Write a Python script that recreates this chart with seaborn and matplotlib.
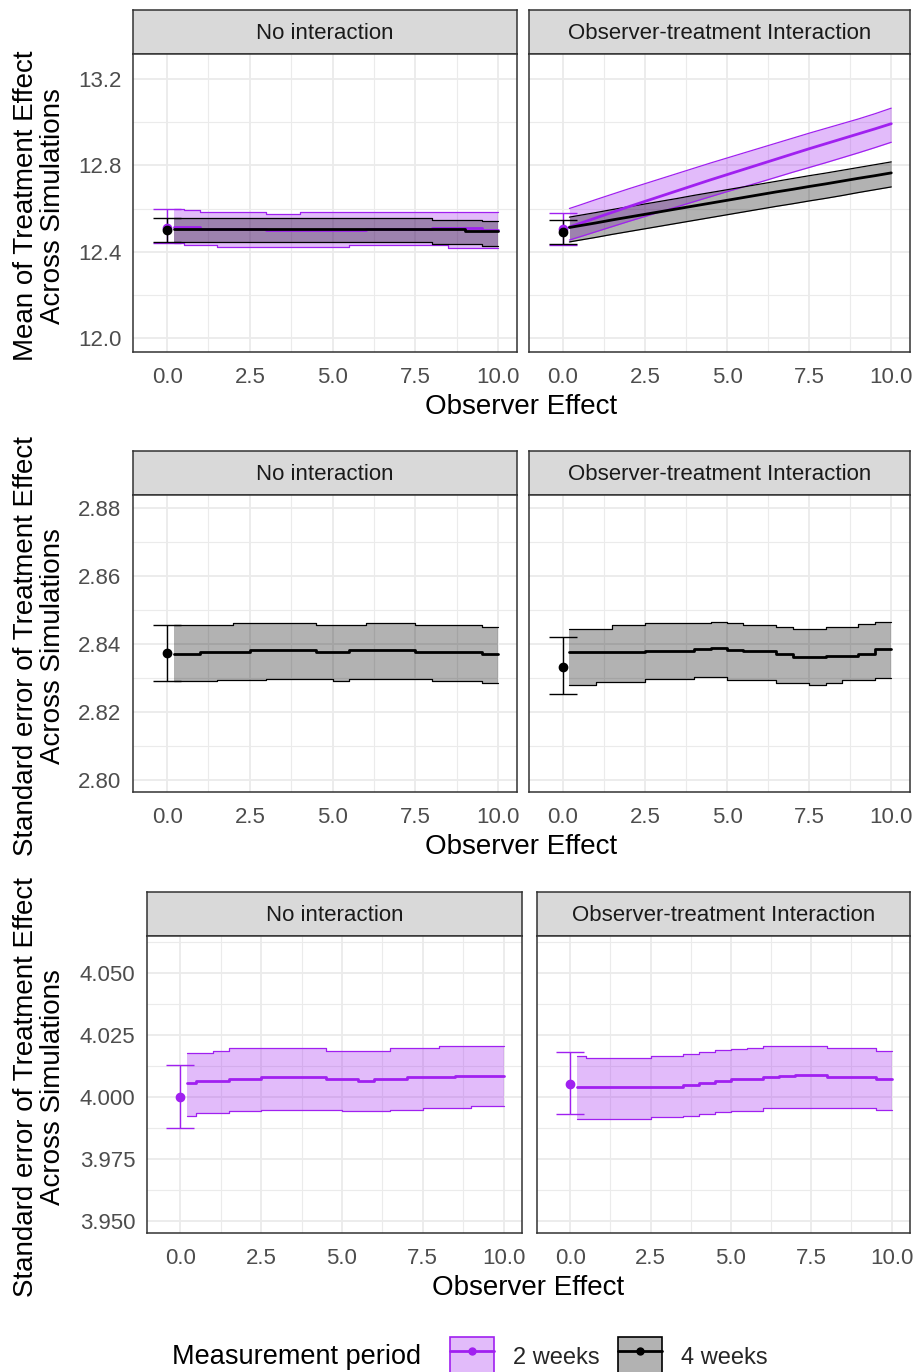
import numpy as np
import pandas as pd
import matplotlib
matplotlib.use("Agg")
import matplotlib.pyplot as plt
import seaborn as sns
from matplotlib.patches import Patch
from matplotlib.lines import Line2D
from matplotlib.legend_handler import HandlerTuple
from matplotlib.ticker import FixedLocator, FormatStrFormatter

# ---------------------------------------------------------------- data
PERIODS = ["2 weeks", "4 weeks"]
FACETS = ["No interaction", "Observer-treatment Interaction"]
OBS_X = [0.2, 0.5, 1.0, 1.5, 2.0, 2.5, 3.0, 3.5, 4.0, 4.5, 5.0,
         5.5, 6.0, 6.5, 7.0, 7.5, 8.0, 8.5, 9.0, 9.5, 10.0]
X_TICKS = [0.0, 2.5, 5.0, 7.5, 10.0]

# Row 1: mean of treatment effect
r1_noint_2w_mean = [12.516, 12.516, 12.507, 12.507, 12.507, 12.507, 12.502, 12.502, 12.502, 12.502, 12.502,
                    12.502, 12.506, 12.506, 12.506, 12.506, 12.510, 12.510, 12.510, 12.500, 12.500]
r1_noint_2w_hi = [12.596, 12.593, 12.582, 12.582, 12.582, 12.582, 12.573, 12.573, 12.582, 12.582, 12.582,
                  12.582, 12.582, 12.582, 12.582, 12.582, 12.582, 12.582, 12.582, 12.582, 12.582]
r1_noint_2w_lo = [12.438, 12.431, 12.431, 12.420, 12.420, 12.420, 12.420, 12.420, 12.420, 12.420, 12.420,
                  12.431, 12.431, 12.431, 12.431, 12.431, 12.431, 12.415, 12.415, 12.415, 12.415]
r1_noint_4w_mean = [12.506, 12.506, 12.506, 12.506, 12.506, 12.506, 12.506, 12.506, 12.506, 12.506, 12.506,
                    12.506, 12.506, 12.506, 12.506, 12.506, 12.503, 12.503, 12.494, 12.494, 12.494]
r1_noint_4w_hi = [12.557, 12.557, 12.557, 12.557, 12.557, 12.557, 12.557, 12.557, 12.557, 12.557, 12.557,
                  12.557, 12.557, 12.557, 12.557, 12.557, 12.546, 12.546, 12.546, 12.540, 12.540]
r1_noint_4w_lo = [12.443, 12.443, 12.443, 12.443, 12.443, 12.443, 12.443, 12.443, 12.443, 12.443, 12.443,
                  12.443, 12.443, 12.443, 12.443, 12.443, 12.434, 12.434, 12.434, 12.425, 12.425]
r1_int_2w_mean = [12.514, 12.530, 12.556, 12.582, 12.608, 12.633, 12.658, 12.683, 12.708, 12.733, 12.757,
                  12.781, 12.805, 12.829, 12.853, 12.877, 12.900, 12.923, 12.946, 12.969, 12.993]
r1_int_2w_hi = [12.600, 12.615, 12.641, 12.666, 12.691, 12.715, 12.739, 12.763, 12.787, 12.811, 12.834,
                12.857, 12.880, 12.903, 12.926, 12.949, 12.971, 12.993, 13.015, 13.039, 13.065]
r1_int_2w_lo = [12.454, 12.468, 12.492, 12.516, 12.540, 12.563, 12.586, 12.609, 12.632, 12.655, 12.678,
                12.700, 12.722, 12.745, 12.768, 12.790, 12.812, 12.835, 12.858, 12.882, 12.907]
r1_int_4w_mean = [12.512, 12.520, 12.533, 12.547, 12.560, 12.573, 12.586, 12.599, 12.612, 12.625, 12.638,
                  12.651, 12.664, 12.677, 12.689, 12.702, 12.714, 12.727, 12.740, 12.752, 12.765]
r1_int_4w_hi = [12.560, 12.568, 12.581, 12.595, 12.608, 12.621, 12.634, 12.647, 12.661, 12.674, 12.687,
                12.700, 12.713, 12.726, 12.739, 12.752, 12.764, 12.777, 12.790, 12.803, 12.816]
r1_int_4w_lo = [12.445, 12.453, 12.466, 12.480, 12.493, 12.506, 12.519, 12.532, 12.545, 12.558, 12.571,
                12.584, 12.597, 12.610, 12.622, 12.635, 12.647, 12.660, 12.674, 12.687, 12.700]
# baseline (observer effect = 0): mean, lower, upper
r1_base_noint_2w = [12.510, 12.438, 12.597]
r1_base_noint_4w = [12.500, 12.443, 12.557]
r1_base_int_2w = [12.505, 12.430, 12.580]
r1_base_int_4w = [12.492, 12.435, 12.546]

# Row 2: standard error, 4 weeks
r2_noint_4w_mean = [2.8370, 2.8370, 2.8376, 2.8376, 2.8376, 2.8382, 2.8382, 2.8382, 2.8382, 2.8376, 2.8376,
                    2.8382, 2.8382, 2.8382, 2.8382, 2.8376, 2.8376, 2.8376, 2.8376, 2.8370, 2.8370]
r2_noint_4w_hi = [2.8456, 2.8456, 2.8456, 2.8456, 2.8461, 2.8461, 2.8461, 2.8461, 2.8461, 2.8456, 2.8456,
                  2.8456, 2.8461, 2.8461, 2.8461, 2.8456, 2.8456, 2.8456, 2.8456, 2.8451, 2.8451]
r2_noint_4w_lo = [2.8291, 2.8291, 2.8291, 2.8294, 2.8294, 2.8294, 2.8297, 2.8297, 2.8297, 2.8297, 2.8292,
                  2.8297, 2.8297, 2.8297, 2.8297, 2.8297, 2.8292, 2.8292, 2.8292, 2.8286, 2.8286]
r2_int_4w_mean = [2.8376, 2.8376, 2.8376, 2.8376, 2.8376, 2.8380, 2.8380, 2.8380, 2.8384, 2.8387, 2.8382,
                  2.8378, 2.8378, 2.8371, 2.8363, 2.8363, 2.8366, 2.8366, 2.8372, 2.8384, 2.8384]
r2_int_4w_hi = [2.8443, 2.8443, 2.8443, 2.8456, 2.8456, 2.8461, 2.8461, 2.8461, 2.8461, 2.8466, 2.8461,
                2.8456, 2.8456, 2.8451, 2.8444, 2.8444, 2.8451, 2.8451, 2.8459, 2.8466, 2.8466]
r2_int_4w_lo = [2.8279, 2.8279, 2.8289, 2.8289, 2.8289, 2.8297, 2.8297, 2.8297, 2.8302, 2.8302, 2.8294,
                2.8294, 2.8294, 2.8286, 2.8286, 2.8279, 2.8286, 2.8294, 2.8294, 2.8300, 2.8300]
r2_base_noint_4w = [2.8374, 2.8292, 2.8456]
r2_base_int_4w = [2.8333, 2.8252, 2.8422]

# Row 3: standard error, 2 weeks
r3_noint_2w_mean = [4.0056, 4.0066, 4.0066, 4.0073, 4.0073, 4.0079, 4.0079, 4.0079, 4.0079, 4.0073, 4.0073,
                    4.0066, 4.0073, 4.0073, 4.0079, 4.0079, 4.0079, 4.0086, 4.0086, 4.0086, 4.0086]
r3_noint_2w_hi = [4.0177, 4.0177, 4.0187, 4.0196, 4.0196, 4.0196, 4.0196, 4.0196, 4.0196, 4.0187, 4.0187,
                  4.0187, 4.0187, 4.0196, 4.0196, 4.0196, 4.0204, 4.0204, 4.0204, 4.0204, 4.0204]
r3_noint_2w_lo = [3.9925, 3.9934, 3.9934, 3.9945, 3.9945, 3.9949, 3.9949, 3.9949, 3.9949, 3.9949, 3.9943,
                  3.9943, 3.9943, 3.9949, 3.9949, 3.9956, 3.9956, 3.9956, 3.9962, 3.9962, 3.9962]
r3_int_2w_mean = [4.0042, 4.0042, 4.0042, 4.0042, 4.0042, 4.0042, 4.0042, 4.0050, 4.0056, 4.0066, 4.0073,
                  4.0073, 4.0079, 4.0086, 4.0089, 4.0089, 4.0079, 4.0079, 4.0079, 4.0073, 4.0073]
r3_int_2w_hi = [4.0167, 4.0157, 4.0157, 4.0157, 4.0157, 4.0167, 4.0167, 4.0172, 4.0180, 4.0188, 4.0194,
                4.0198, 4.0204, 4.0204, 4.0204, 4.0204, 4.0196, 4.0196, 4.0196, 4.0187, 4.0187]
r3_int_2w_lo = [3.9911, 3.9911, 3.9911, 3.9911, 3.9911, 3.9918, 3.9918, 3.9924, 3.9932, 3.9938, 3.9945,
                3.9945, 3.9954, 3.9954, 3.9954, 3.9954, 3.9954, 3.9954, 3.9954, 3.9948, 3.9948]
r3_base_noint_2w = [4.0000, 3.9875, 4.0129]
r3_base_int_2w = [4.0052, 3.9931, 4.0180]

Y_LABEL_MEAN = "Mean of Treatment Effect\nAcross Simulations"
Y_LABEL_SE = "Standard error of Treatment Effect\nAcross Simulations"
X_LABEL = "Observer Effect"
LEGEND_TITLE = "Measurement period"


def tidy(rows):
    frames = []
    for facet, period, mean, lo, hi in rows:
        frames.append(pd.DataFrame({"x": OBS_X, "mean": mean, "lo": lo, "hi": hi,
                                    "facet": facet, "period": period}))
    return pd.concat(frames, ignore_index=True)


row1 = tidy([
    (FACETS[0], PERIODS[0], r1_noint_2w_mean, r1_noint_2w_lo, r1_noint_2w_hi),
    (FACETS[0], PERIODS[1], r1_noint_4w_mean, r1_noint_4w_lo, r1_noint_4w_hi),
    (FACETS[1], PERIODS[0], r1_int_2w_mean, r1_int_2w_lo, r1_int_2w_hi),
    (FACETS[1], PERIODS[1], r1_int_4w_mean, r1_int_4w_lo, r1_int_4w_hi),
])
row1_base = {(FACETS[0], PERIODS[0]): r1_base_noint_2w, (FACETS[0], PERIODS[1]): r1_base_noint_4w,
             (FACETS[1], PERIODS[0]): r1_base_int_2w, (FACETS[1], PERIODS[1]): r1_base_int_4w}
row2 = tidy([
    (FACETS[0], PERIODS[1], r2_noint_4w_mean, r2_noint_4w_lo, r2_noint_4w_hi),
    (FACETS[1], PERIODS[1], r2_int_4w_mean, r2_int_4w_lo, r2_int_4w_hi),
])
row2_base = {(FACETS[0], PERIODS[1]): r2_base_noint_4w, (FACETS[1], PERIODS[1]): r2_base_int_4w}
row3 = tidy([
    (FACETS[0], PERIODS[0], r3_noint_2w_mean, r3_noint_2w_lo, r3_noint_2w_hi),
    (FACETS[1], PERIODS[0], r3_int_2w_mean, r3_int_2w_lo, r3_int_2w_hi),
])
row3_base = {(FACETS[0], PERIODS[0]): r3_base_noint_2w, (FACETS[1], PERIODS[0]): r3_base_int_2w}

# ---------------------------------------------------------------- style
sns.set_theme(style="white")
plt.rcParams["font.family"] = ["Liberation Sans", "DejaVu Sans"]

COLORS = {"2 weeks": "#A020F0", "4 weeks": "#000000"}
GRID = "#EBEBEB"
BORDER = "#333333"
TICK_TXT = "#4D4D4D"
STRIP_FILL = "#D9D9D9"

W, H = 921, 1372
fig = plt.figure(figsize=(W / 100, H / 100), dpi=100)


def px_axes(x0, y0, x1, y1):
    return fig.add_axes([x0 / W, 1 - y1 / H, (x1 - x0) / W, (y1 - y0) / H])


XLIM = (-1.03, 10.57)

ROWS = [
    dict(data=row1, base=row1_base, steps=[True, False], ylim=(11.935, 13.316),
         major=[12.0, 12.4, 12.8, 13.2], minor=[12.2, 12.6, 13.0], fmt="%.1f",
         cols=[(133, 517), (529, 910)], top=10, strip=44, bottom=352,
         ylabel=Y_LABEL_MEAN, xlab_y=407),
    dict(data=row2, base=row2_base, steps=[True, True], ylim=(2.7965, 2.8838),
         major=[2.80, 2.82, 2.84, 2.86, 2.88], minor=[2.81, 2.83, 2.85, 2.87], fmt="%.2f",
         cols=[(133, 517), (529, 910)], top=451, strip=44, bottom=792,
         ylabel=Y_LABEL_SE, xlab_y=847),
    dict(data=row3, base=row3_base, steps=[True, True], ylim=(3.9452, 4.0649),
         major=[3.950, 3.975, 4.000, 4.025, 4.050], minor=[3.9625, 3.9875, 4.0125, 4.0375, 4.0625],
         fmt="%.3f", cols=[(147, 522), (537, 910)], top=892, strip=44, bottom=1233,
         ylabel=Y_LABEL_SE, xlab_y=1288),
]

for row in ROWS:
    df = row["data"]
    for j, facet in enumerate(FACETS):
        x0, x1 = row["cols"][j]
        ptop = row["top"] + row["strip"]
        ax = px_axes(x0, ptop, x1, row["bottom"])
        sax = px_axes(x0, row["top"], x1, ptop)
        ax.set_zorder(1)
        # strip
        sax.set_facecolor(STRIP_FILL)
        sax.set_xticks([]); sax.set_yticks([])
        for s in sax.spines.values():
            s.set_color(BORDER); s.set_linewidth(1.1)
        sax.text(0.5, 0.47, facet, ha="center", va="center", fontsize=16, color="#1A1A1A",
                 transform=sax.transAxes)

        sub = df[df["facet"] == facet]
        step = row["steps"][j]
        ds = "steps-post" if step else "default"
        present = [p for p in PERIODS if p in set(sub["period"])]
        for p in present:
            d = sub[sub["period"] == p]
            c = COLORS[p]
            ax.fill_between(d["x"], d["lo"], d["hi"], step="post" if step else None,
                            color=c, alpha=0.3, linewidth=0, zorder=2)
            ax.plot(d["x"], d["lo"], color=c, lw=0.9, drawstyle=ds, zorder=3)
            ax.plot(d["x"], d["hi"], color=c, lw=0.9, drawstyle=ds, zorder=3)
        sns.lineplot(data=sub, x="x", y="mean", hue="period", hue_order=present,
                     palette=COLORS, lw=2.0, drawstyle=ds, errorbar=None, legend=False,
                     ax=ax, zorder=4)
        for p in present:
            m, lo, hi = row["base"][(facet, p)]
            ax.errorbar([0.0], [m], yerr=[[m - lo], [hi - m]], fmt="o", color=COLORS[p],
                        ms=6, capsize=10, elinewidth=1.0, capthick=1.0, zorder=5)

        ax.set_xlim(*XLIM)
        ax.set_ylim(*row["ylim"])
        ax.set_xlabel(""); ax.set_ylabel("")
        ax.xaxis.set_major_locator(FixedLocator(X_TICKS))
        ax.xaxis.set_minor_locator(FixedLocator([1.25, 3.75, 6.25, 8.75]))
        ax.yaxis.set_major_locator(FixedLocator(row["major"]))
        ax.yaxis.set_minor_locator(FixedLocator(row["minor"]))
        ax.xaxis.set_major_formatter(FormatStrFormatter("%.1f"))
        ax.yaxis.set_major_formatter(FormatStrFormatter(row["fmt"]))
        ax.set_axisbelow(True)
        ax.grid(True, which="major", color=GRID, lw=1.3)
        ax.grid(True, which="minor", color=GRID, lw=0.8)
        ax.set_facecolor("white")
        for s in ax.spines.values():
            s.set_color(BORDER); s.set_linewidth(1.1)
        ax.tick_params(axis="both", which="major", length=5, width=1.0, color=BORDER,
                       labelsize=16, labelcolor=TICK_TXT, pad=3.5)
        ax.tick_params(axis="x", which="major", pad=6)
        ax.tick_params(axis="both", which="minor", length=0)
        if j == 1:
            ax.tick_params(axis="y", which="both", left=False, labelleft=False)

    # axis titles
    xc = (row["cols"][0][0] + row["cols"][1][1]) / 2
    fig.text(xc / W, 1 - row["xlab_y"] / H, X_LABEL, ha="center", va="center", fontsize=20,
             color="black")
    yc = (row["top"] + row["strip"] + row["bottom"]) / 2 + 3
    fig.text(40 / W, 1 - yc / H, row["ylabel"], ha="center", va="center", rotation=90,
             fontsize=20, color="black", linespacing=1.05, multialignment="center")

# ---------------------------------------------------------------- legend
fig.text(172 / W, 1 - 1357 / H, LEGEND_TITLE, ha="left", va="center", fontsize=19.5, color="black")
handles = []
for p in PERIODS:
    c = COLORS[p]
    handles.append((Patch(facecolor=matplotlib.colors.to_rgba(c, 0.3), edgecolor=c, linewidth=1.2),
                    Line2D([], [], color=c, lw=2.0, marker="o", ms=5)))
fig.legend(handles, PERIODS, handler_map={tuple: HandlerTuple(ndivide=1, pad=0)},
           loc="center left", bbox_to_anchor=(450 / W, 1 - 1357 / H), ncol=2, frameon=False,
           fontsize=17, handlelength=1.86, handleheight=2.2, handletextpad=0.8,
           columnspacing=0.8, borderpad=0, borderaxespad=0)

fig.savefig("out.png", dpi=100)
